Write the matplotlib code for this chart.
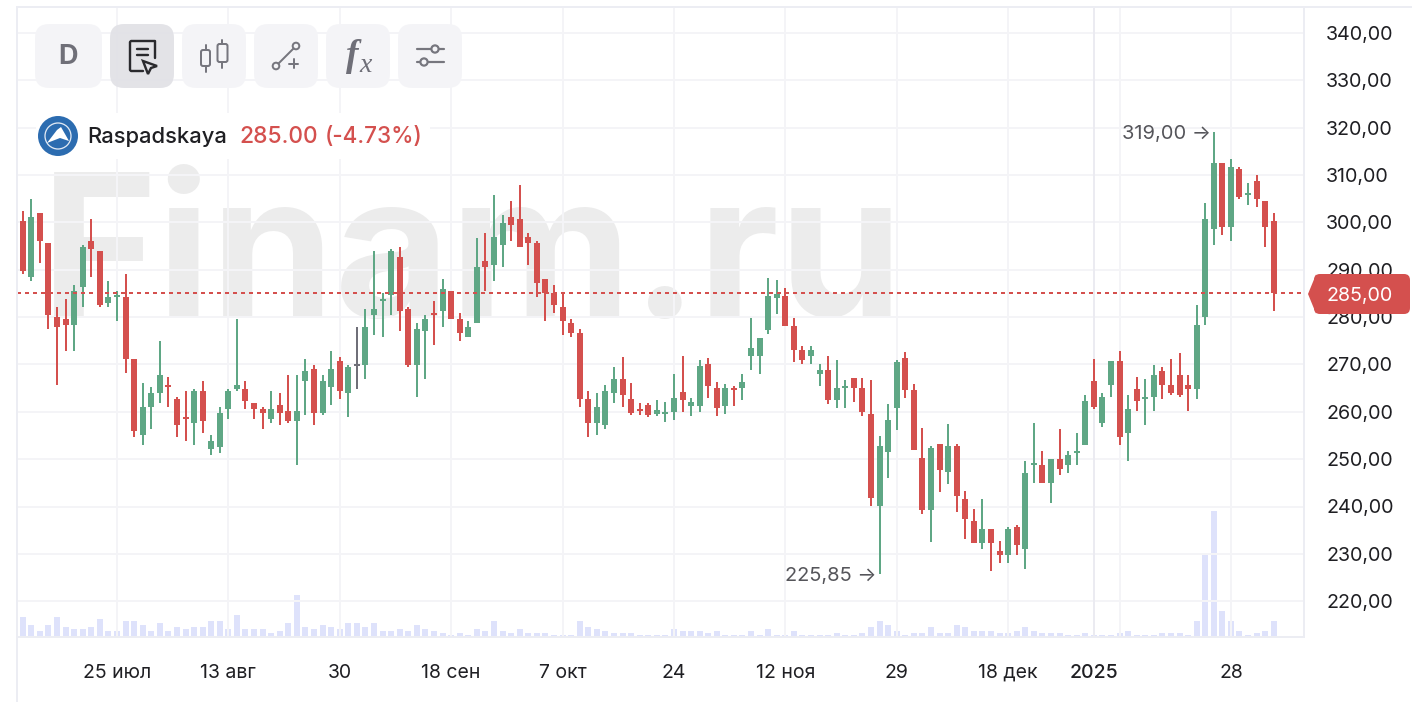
import matplotlib
matplotlib.use("Agg")
import matplotlib.pyplot as plt
from matplotlib.patches import FancyBboxPatch, Circle, Polygon, Rectangle

plt.rcParams['font.family'] = ['Inter', 'DejaVu Sans']

opens = [300.4,288.5,302.0,295.7,280.1,279.6,278.4,286.4,296.1,294.0,
 283.0,284.3,284.3,271.2,255.1,261.1,264.0,265.7,262.7,258.9,
 257.7,264.4,252.2,252.6,260.6,264.9,264.9,261.9,260.6,258.5,
 261.5,260.2,258.1,266.6,269.1,259.8,265.3,270.8,264.0,269.7,
 269.9,280.5,283.4,284.7,292.7,281.8,269.9,277.1,280.9,281.3,
 285.6,279.6,275.9,278.8,291.9,291.1,295.3,301.2,300.8,297.0,
 295.7,288.1,285.1,282.2,278.8,276.7,262.7,257.7,257.2,264.0,
 267.0,262.7,260.6,261.5,259.5,259.5,259.9,264.2,261.2,261.2,
 270.1,265.0,261.2,265.0,265.0,271.8,271.8,277.2,284.0,284.4,
 278.1,273.0,271.8,268.0,268.8,262.5,265.0,267.1,265.0,259.5,
 240.1,251.5,260.8,271.3,264.6,250.2,239.2,253.2,247.2,252.7,
 241.6,237.0,232.3,235.3,230.6,229.8,235.7,231.0,248.8,248.8,
 245.0,250.1,248.8,251.3,253.0,266.5,257.7,265.6,270.7,255.6,
 264.8,262.7,263.1,268.6,265.6,267.7,265.6,264.8,280.0,298.6,
 312.5,299.0,311.3,305.8,308.7,304.5,300.3]
highs = [302.5,305.0,302.0,295.7,282.2,283.9,286.8,295.3,300.8,294.0,
 287.7,285.6,289.0,271.2,266.1,265.3,275.0,267.4,263.2,264.4,
 264.8,266.6,255.1,261.1,264.8,279.6,266.6,261.9,261.1,264.4,
 264.0,267.8,267.8,271.2,269.9,267.8,272.9,271.6,269.9,278.0,
 281.8,294.0,285.1,294.4,294.9,282.2,278.8,280.5,283.5,288.1,
 285.6,280.9,279.2,296.6,297.8,305.8,301.6,304.6,308.0,297.8,
 296.1,288.1,286.8,285.1,279.6,277.5,264.4,264.0,265.7,269.5,
 271.6,266.1,261.9,261.9,262.5,262.0,268.0,271.8,262.9,270.9,
 271.3,266.3,265.8,265.4,268.0,279.8,275.6,288.2,287.8,286.1,
 279.8,273.9,273.9,270.1,271.8,270.9,266.7,267.1,267.1,266.7,
 254.9,261.6,270.9,272.6,265.8,256.5,252.7,253.2,257.4,253.2,
 243.3,239.5,241.6,235.3,232.7,235.7,236.1,249.6,257.7,251.8,
 250.1,256.4,251.8,255.6,263.5,271.1,263.9,270.7,272.8,263.5,
 267.3,266.9,269.9,269.4,271.1,272.4,267.7,282.5,304.1,319.0,
 312.5,313.4,311.7,308.3,310.0,304.5,302.0]
lows = [289.0,287.7,291.5,277.5,265.7,272.9,272.9,282.2,288.5,282.2,
 282.2,279.2,268.2,254.7,253.0,256.4,261.9,261.1,254.7,253.9,
 253.0,255.6,250.9,251.3,258.5,264.4,260.6,258.5,256.4,257.7,
 257.3,257.7,248.8,259.4,257.3,259.4,261.5,262.7,258.9,264.9,
 267.0,276.3,275.9,280.5,277.1,269.5,263.2,267.0,274.2,278.0,
 279.6,275.0,275.9,278.8,285.6,287.7,290.6,296.1,294.9,291.1,
 284.3,279.2,280.9,276.3,275.8,261.1,254.7,255.1,256.4,261.9,
 261.1,259.3,259.3,259.0,259.1,257.8,258.2,259.9,259.1,259.9,
 262.9,259.1,259.5,261.2,262.5,268.8,268.0,276.4,280.6,278.1,
 270.5,270.1,270.1,265.4,261.6,260.8,260.8,262.0,259.1,240.1,
 225.85,246.0,256.1,262.9,251.9,238.4,232.5,243.0,244.7,238.8,
 233.2,232.3,231.0,226.4,228.1,228.1,229.8,226.8,245.0,245.0,
 240.8,246.7,247.1,248.8,253.0,260.6,256.8,263.1,253.0,249.6,
 260.1,257.2,260.1,262.7,263.5,263.1,260.1,262.7,278.3,295.2,
 297.3,296.0,304.9,303.7,303.2,294.8,281.3]
closes = [289.8,301.2,296.1,280.5,278.0,278.4,285.6,294.9,294.4,282.6,
 284.3,284.7,271.2,256.0,261.1,264.0,267.8,265.3,257.3,258.5,
 264.4,258.1,253.9,259.8,264.4,265.7,262.3,260.6,259.8,260.6,
 259.8,258.1,260.2,268.7,259.8,266.6,269.1,264.4,269.5,269.7,
 278.0,281.8,283.9,294.0,281.3,269.9,277.5,279.6,280.5,286.0,
 279.6,276.7,278.0,290.6,290.6,297.0,299.9,299.5,294.9,295.7,
 287.3,285.1,282.6,279.2,276.7,262.7,257.7,261.1,264.4,267.0,
 263.6,259.8,260.2,259.4,260.3,259.9,262.9,262.5,262.0,269.6,
 265.4,260.8,265.0,264.6,266.3,273.4,275.6,284.4,284.9,278.1,
 273.0,270.9,273.0,268.8,262.5,265.0,265.4,265.0,259.9,241.8,
 252.7,258.2,270.5,264.6,251.9,239.2,252.3,247.7,252.7,242.2,
 237.4,232.3,235.3,232.3,229.8,235.3,231.9,247.1,249.2,245.0,
 250.1,247.9,250.9,251.8,262.3,261.0,263.1,270.7,254.7,260.6,
 262.2,263.1,267.7,265.6,263.9,263.5,264.8,278.3,300.7,312.5,
 299.0,311.7,305.3,306.2,304.9,299.0,285.0]
volumes = [10,6,3,6,10,5,4,4,5,9,
 3,3,8,8,6,3,7,3,5,4,
 5,5,8,8,4,11,4,4,4,2,
 3,7,21,5,4,6,5,4,7,7,
 5,7,3,3,4,3,6,4,3,2,
 1,2,1,4,3,8,3,2,4,2,
 2,2,1,1,1,8,5,4,3,2,
 2,2,1,1,1,1,4,3,3,3,
 2,3,1,1,1,3,1,4,1,1,
 3,1,1,1,1,2,1,1,2,5,
 8,6,3,1,2,2,5,2,2,6,
 5,3,3,3,2,2,3,5,3,2,
 2,2,1,1,2,1,1,1,2,3,
 1,1,1,2,2,2,1,8,42,63,
 13,8,3,1,2,3,8]

price_ticks = [220,230,240,250,260,270,280,290,300,310,320,330,340]
date_idx = [11,24,37,50,63,76,89,102,115,125,141]
date_labels = ['25 июл','13 авг','30','18 сен','7 окт','24','12 ноя','29','18 дек','2025','28']
grid_idx = [11,24,37,50,63,76,89,102,115,128,141]
year_idx = 125
last_price = 285.0
hi_idx, hi_price, hi_label = 139, 319.0, '319,00 →'
lo_idx, lo_price, lo_label = 100, 225.85, '225,85 →'

RED, GREEN, GRAY = '#d4504e', '#5fa785', '#6f6f78'
W, H = 1412, 702
PX = 72 / 100  # points per pixel at 100 dpi

fig = plt.figure(figsize=(W/100, H/100), dpi=100, facecolor='white')
L, R, T, B = 17.0, 1303.5, 7.0, 637.0
ax = fig.add_axes([L/W, 1-B/H, (R-L)/W, (B-T)/H])
ax.set_xlim((L-22.7)/8.569, (R-22.7)/8.569)
ax.set_ylim(340-(B-33)/4.735, 340+(33-T)/4.735)
ax.set_facecolor('none')
for s in ax.spines.values():
    s.set_visible(False)

# watermark beneath the grid
ax.text(41/W, 1-317/H, 'Finam.ru', transform=fig.transFigure, fontsize=199*PX, fontweight='bold',
        color='#ececec', ha='left', va='baseline', zorder=0.5)

ax.hlines(price_ticks, *ax.get_xlim(), color='#f4f4f7', lw=2*PX, zorder=1, snap=True)
ax.vlines(grid_idx, *ax.get_ylim(), color='#f4f4f7', lw=2*PX, zorder=1, snap=True)
ax.vlines([year_idx], *ax.get_ylim(), color='#ebebf1', lw=2*PX, zorder=1.1, snap=True)

# volume on its own scale, 1 unit = 2 px
vax = ax.twinx()
vax.set_ylim(0, (B-T)/2)
vax.set_facecolor('none')
vax.axis('off')
xs = list(range(len(closes)))
vax.bar(xs, volumes, width=6/8.569, color='#c8cff9', alpha=0.6, lw=0, zorder=1.5)

# candles
colors = [GREEN if c > o else RED if c < o else GRAY for o, c in zip(opens, closes)]
ax.set_zorder(vax.get_zorder()+1)
ax.vlines(xs, lows, highs, colors=colors, lw=2*PX, zorder=3, snap=True)
bodies = [max(abs(o-c), 0.42) for o, c in zip(opens, closes)]
bottoms = [min(o, c) for o, c in zip(opens, closes)]
ax.bar(xs, bodies, bottom=bottoms, width=6/8.569, color=colors, lw=0, zorder=3.1)
ax.axhline(last_price, color=RED, lw=2*PX, ls=(0, (2, 2)), zorder=4)

# extreme annotations
ax.annotate(hi_label, (hi_idx, hi_price), xytext=(-3*PX, -2*PX), textcoords='offset points', ha='right',
            va='center', fontsize=14.4, color='#55555a', zorder=5)
ax.annotate(lo_label, (lo_idx, lo_price), xytext=(-3*PX, -2*PX), textcoords='offset points', ha='right',
            va='center', fontsize=14.4, color='#55555a', zorder=5)

# axes labels
ax.yaxis.tick_right()
ax.set_yticks(price_ticks, [f'{v},00' for v in price_ticks])
ax.set_xticks(date_idx, date_labels)
ax.tick_params(axis='y', length=0, pad=22.5*PX, labelsize=14.2, labelcolor='#1f1f23')
ax.tick_params(axis='x', length=0, pad=27*PX, labelsize=14, labelcolor='#1f1f23')
ax.get_xticklabels()[date_labels.index('2025')].set_fontweight('medium')

# UI chrome in pixel coordinates
ui = fig.add_axes([0, 0, 1, 1], zorder=10)
ui.set_xlim(0, W); ui.set_ylim(H, 0); ui.axis('off'); ui.patch.set_alpha(0)
BORDER = '#ecedf3'
ui.plot([17, 17], [7, H], color=BORDER, lw=2*PX)
ui.plot([17, W], [7, 7], color=BORDER, lw=2*PX)
ui.plot([1303.5, 1303.5], [7, 637], color=BORDER, lw=2*PX)
ui.plot([17, 1304], [637, 637], color=BORDER, lw=2*PX)

# toolbar
for (x0, x1), fc in zip([(35,102),(110,174),(182,246),(254,318),(326,390),(398,462)],
                        ['#f4f4f7','#e1e1e6','#f4f4f7','#f4f4f7','#f4f4f7','#f4f4f7']):
    ui.add_patch(FancyBboxPatch((x0+14, 24+14), x1-x0-28, 64-28, boxstyle='round,pad=14,rounding_size=14',
                                fc=fc, ec='none', alpha=0.93))
ui.text(68, 57, 'D', fontsize=19.5, fontweight='bold', color='#6f6f78', ha='center', va='center')
IC = '#76767e'; DK = '#2a2a2e'
def ln(xs, ys, c=IC, lw=2):
    ui.plot(xs, ys, color=c, lw=lw*PX, solid_capstyle='round', solid_joinstyle='round')
# report + cursor
ln([143, 131, 130, 130, 131, 155, 155], [71, 71, 70, 42, 41, 41, 58], DK, 2.4)
ln([137, 148], [49, 49], DK, 2.4); ln([137, 148], [55, 55], DK, 2.4)
ui.add_patch(Polygon([(143, 61), (157, 66), (151, 68), (148, 74)], closed=True, fc='#e1e1e6', ec=DK, lw=2.4*PX, zorder=3))
# candles
ui.add_patch(FancyBboxPatch((201, 50), 9, 16, boxstyle='round,pad=0,rounding_size=2', fc='none', ec=IC, lw=2*PX))
ui.add_patch(FancyBboxPatch((217.5, 44), 10, 18, boxstyle='round,pad=0,rounding_size=2', fc='none', ec=IC, lw=2*PX))
ln([205.5, 205.5], [45, 50]); ln([205.5, 205.5], [66, 72])
ln([222, 222], [40, 44]); ln([222, 222], [62, 68])
# line tool
ui.add_patch(Circle((276, 66), 3.3, fc='none', ec=IC, lw=2*PX))
ui.add_patch(Circle((296, 46), 3.3, fc='none', ec=IC, lw=2*PX))
ln([278.5, 293.5], [63.5, 48.5])
ln([293.5, 293.5], [59, 68]); ln([289, 298], [63.5, 63.5])
# f(x)
ui.text(352, 57, 'f', family='Liberation Serif', style='italic', fontweight='bold', fontsize=27, color='#6f6f78', ha='center', va='center')
ui.text(366, 66, 'x', family='Liberation Serif', style='italic', fontsize=20, color='#6f6f78', ha='center', va='center')
# sliders
ln([417, 444], [49, 49], IC, 2.2); ln([417, 444], [62, 62], IC, 2.2)
ui.add_patch(Circle((435, 49), 3.6, fc='#f4f4f7', ec=IC, lw=2.2*PX, zorder=3))
ui.add_patch(Circle((424, 62), 3.6, fc='#f4f4f7', ec=IC, lw=2.2*PX, zorder=3))

# legend with white backing
ui.add_patch(Rectangle((36, 113), 394, 46, fc='white', ec='none'))
ui.add_patch(Circle((58, 136), 20, fc='#2c6cb0', ec='none'))
ui.add_patch(Circle((58, 136), 13, fc='none', ec='#dfe8f3', lw=1.3*PX))
ui.add_patch(Polygon([(47, 143), (57, 130), (61, 127), (69, 141), (60, 138)], closed=True, fc='white', ec='none'))
ui.text(87, 137, 'Raspadskaya', fontsize=15.8, fontweight='medium', color='#1f1f23', ha='left', va='center')
ui.text(239, 137, '285.00', fontsize=16.4, fontweight='medium', color=RED, ha='left', va='center')
ui.text(325, 137, '(-4.73%)', fontsize=16.2, fontweight='medium', color=RED, ha='left', va='center')

# last price tag
ui.add_patch(FancyBboxPatch((1320, 280), 84, 28, boxstyle='round,pad=6,rounding_size=6', fc=RED, ec='none'))
ui.add_patch(Polygon([(1308, 294), (1316, 274.5), (1316, 313.5)], closed=True, fc=RED, ec='none'))
ui.text(1326, 296, '285,00', fontsize=14.2, color='white', ha='left', va='center')

fig.savefig('out.png', dpi=100, facecolor='white')
